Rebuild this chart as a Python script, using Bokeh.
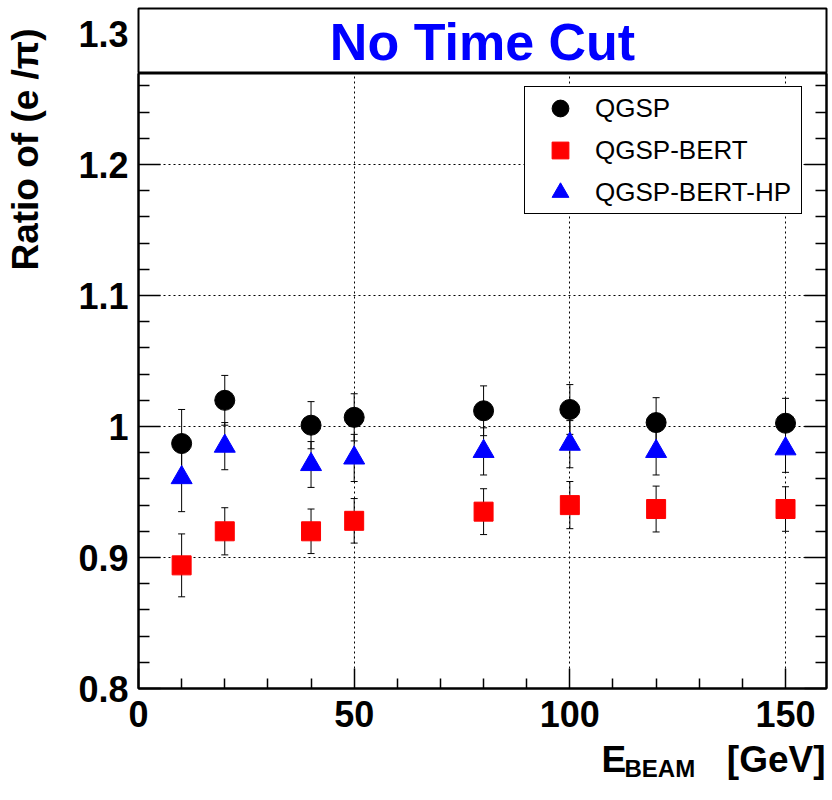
import math
from bokeh.plotting import figure
from bokeh.layouts import row, column
from bokeh.models import (Range1d, FixedTicker, LinearAxis, Whisker, TeeHead,
                          ColumnDataSource, Label, Legend, LegendItem,
                          CustomJSTickFormatter)
from bokeh.embed import file_html
from bokeh.resources import INLINE

# ---------------- data ----------------
energy = [10, 20, 40, 50, 80, 100, 120, 150]
qgsp = [0.987, 1.020, 1.001, 1.007, 1.012, 1.013, 1.003, 1.0025]
qgsp_err = [0.026, 0.019, 0.018, 0.018, 0.019, 0.019, 0.019, 0.019]
qgsp_bert = [0.894, 0.920, 0.920, 0.928, 0.935, 0.940, 0.937, 0.937]
qgsp_bert_err = [0.024, 0.018, 0.017, 0.017, 0.0175, 0.018, 0.0175, 0.017]
qgsp_bert_hp = [0.961, 0.985, 0.971, 0.976, 0.981, 0.9865, 0.981, 0.983]
qgsp_bert_hp_err = [0.026, 0.018, 0.0175, 0.018, 0.018, 0.018, 0.018, 0.018]

series_names = ["QGSP", "QGSP-BERT", "QGSP-BERT-HP"]
x_ticks = [0, 50, 100, 150]
x_tick_labels = ["0", "50", "100", "150"]
x_minor = [10, 20, 30, 40, 60, 70, 80, 90, 110, 120, 130, 140]
y_ticks = [0.8, 0.9, 1.0, 1.1, 1.2, 1.3]
y_tick_labels = ["0.8", "0.9", "1", "1.1", "1.2", "1.3"]
y_minor = [0.82, 0.84, 0.86, 0.88, 0.92, 0.94, 0.96, 0.98, 1.02, 1.04, 1.06, 1.08,
           1.12, 1.14, 1.16, 1.18, 1.22, 1.24, 1.26, 1.28, 1.32]
title_text = "No Time Cut"
y_title = "Ratio of (e /π)"

# ---------------- geometry (page pixels) ----------------
W, H = 832, 800
LW = 60                      # strip holding the y title
FL, FR = 138, 826            # frame left / right
FT, BOXB, FB = 8, 73, 688    # frame top, title-box bottom, frame bottom
XT = 744                     # top of the strip holding the x title
PXU = 1310.0                 # pixels per unit of ratio
X0, X1 = 0.0, 159.5
Y0 = 0.8
YB = Y0 + (FB - BOXB) / PXU
Y1 = Y0 + (FB - FT) / PXU
FONT = "Liberation Sans"

def dx(sx):
    return X0 + (sx - FL) * (X1 - X0) / (FR - FL)

xr = Range1d(X0, X1)
JS_LOOKUP = """
let best = 0, d = Infinity;
for (let i = 0; i < tvals.length; i++) { const e = Math.abs(tvals[i] - tick); if (e < d) { d = e; best = i; } }
return tlabels[best];
"""

def style_ylabels(ax):
    ax.major_label_text_font = FONT
    ax.major_label_text_font_style = "bold"
    ax.major_label_text_font_size = "36px"
    ax.major_label_text_color = "black"
    ax.major_label_standoff = 10

# ---------------- main plot ----------------
p = figure(width=W - LW, height=XT - BOXB, x_range=xr, y_range=Range1d(Y0, YB),
           output_backend="svg", toolbar_location=None,
           min_border_left=FL - LW, min_border_right=W - FR, min_border_top=0,
           min_border_bottom=XT - FB)
p.background_fill_color = "white"
p.border_fill_color = "white"
p.outline_line_color = "black"
p.outline_line_width = 2

for ax in p.xaxis:
    ax.ticker = FixedTicker(ticks=x_ticks, minor_ticks=x_minor)
    ax.formatter = CustomJSTickFormatter(args=dict(tvals=x_ticks, tlabels=x_tick_labels), code=JS_LOOKUP)
    ax.major_tick_in = 20
    ax.major_tick_out = 0
    ax.minor_tick_in = 10
    ax.minor_tick_out = 0
    ax.axis_line_width = 2
    ax.major_tick_line_width = 1.5
    ax.minor_tick_line_width = 1.5
    ax.major_label_text_font = FONT
    ax.major_label_text_font_style = "bold"
    ax.major_label_text_font_size = "36px"
    ax.major_label_text_color = "black"
    ax.major_label_standoff = 12

for ax in p.yaxis:
    ax.ticker = FixedTicker(ticks=y_ticks, minor_ticks=y_minor)
    ax.formatter = CustomJSTickFormatter(args=dict(tvals=y_ticks, tlabels=y_tick_labels), code=JS_LOOKUP)
    ax.major_tick_in = 22
    ax.major_tick_out = 0
    ax.minor_tick_in = 11
    ax.minor_tick_out = 0
    ax.axis_line_width = 2
    ax.major_tick_line_width = 1.5
    ax.minor_tick_line_width = 1.5
    style_ylabels(ax)

right_axis = LinearAxis(ticker=FixedTicker(ticks=y_ticks, minor_ticks=y_minor),
                        formatter=CustomJSTickFormatter(code="return '';"),
                        major_tick_in=22, major_tick_out=0, minor_tick_in=11, minor_tick_out=0,
                        axis_line_width=2, major_tick_line_width=1.5, minor_tick_line_width=1.5,
                        major_label_standoff=0)
p.add_layout(right_axis, "right")

p.xgrid.ticker = FixedTicker(ticks=x_ticks)
p.ygrid.ticker = FixedTicker(ticks=y_ticks)
for g in (p.xgrid[0], p.ygrid[0]):
    g.grid_line_color = "black"
    g.grid_line_dash = "2 3"
    g.grid_line_width = 1
    g.grid_line_alpha = 1.0

def add_errors(ys, errs):
    src = ColumnDataSource(dict(x=energy,
                                lo=[a - b for a, b in zip(ys, errs)],
                                hi=[a + b for a, b in zip(ys, errs)]))
    p.add_layout(Whisker(base="x", lower="lo", upper="hi", source=src, line_color="black",
                         line_width=1,
                         upper_head=TeeHead(size=7, line_color="black", line_width=1),
                         lower_head=TeeHead(size=7, line_color="black", line_width=1)))

add_errors(qgsp, qgsp_err)
add_errors(qgsp_bert, qgsp_bert_err)
add_errors(qgsp_bert_hp, qgsp_bert_hp_err)

r1 = p.scatter(energy, qgsp, marker="circle", size=20, fill_color="black", line_color="black")
r2 = p.scatter(energy, qgsp_bert, marker="square", size=19, fill_color="#ff0000", line_color="#ff0000")
r3 = p.scatter(energy, qgsp_bert_hp, marker="triangle", size=21, fill_color="#0000ff", line_color="#0000ff")

legend = Legend(items=[LegendItem(label=series_names[0], renderers=[r1]),
                       LegendItem(label=series_names[1], renderers=[r2]),
                       LegendItem(label=series_names[2], renderers=[r3])],
                location=(524 - FL, FB - 214), glyph_width=70, glyph_height=42,
                label_height=42, label_width=206, spacing=0, padding=0,
                label_standoff=0, margin=0,
                label_text_font=FONT, label_text_font_size="26px", label_text_color="black",
                border_line_color="black", border_line_width=1, border_line_alpha=1.0,
                background_fill_color="white", background_fill_alpha=1.0)
p.add_layout(legend)

# ---------------- title box (top of the same frame) ----------------
pt = figure(width=W - LW, height=BOXB, x_range=xr, y_range=Range1d(YB, Y1),
            output_backend="svg", toolbar_location=None, x_axis_location=None,
            min_border_left=FL - LW, min_border_right=W - FR, min_border_top=FT,
            min_border_bottom=0)
pt.background_fill_color = "white"
pt.border_fill_color = "white"
pt.outline_line_color = "black"
pt.outline_line_width = 2
pt.grid.visible = False
for ax in pt.yaxis:
    ax.ticker = FixedTicker(ticks=y_ticks, minor_ticks=[])
    ax.formatter = CustomJSTickFormatter(args=dict(tvals=y_ticks, tlabels=y_tick_labels), code=JS_LOOKUP)
    ax.major_tick_in = 0
    ax.major_tick_out = 0
    ax.minor_tick_in = 0
    ax.minor_tick_out = 0
    ax.axis_line_color = None
    ax.major_tick_line_color = None
    ax.minor_tick_line_color = None
    style_ylabels(ax)
pt.add_layout(Label(x=dx(482), y=Y1 - (41 - FT) / PXU, text=title_text, text_align="center",
                    text_baseline="alphabetic", text_font=FONT, text_font_style="bold",
                    text_font_size="52px", text_color="#0000ff"))

# ---------------- y title strip ----------------
pl = figure(width=LW, height=H, x_range=Range1d(0, LW), y_range=Range1d(H, 0),
            output_backend="svg", toolbar_location=None, x_axis_location=None,
            y_axis_location=None, min_border=0)
pl.min_border_left = pl.min_border_right = pl.min_border_top = pl.min_border_bottom = 0
pl.outline_line_color = None
pl.background_fill_color = "white"
pl.border_fill_color = "white"
pl.grid.visible = False
pl.add_layout(Label(x=25, y=28, text=y_title, angle=math.pi / 2,
                    text_align="right", text_baseline="alphabetic", text_font=FONT,
                    text_font_style="bold", text_font_size="37px", text_color="black"))

# ---------------- x title strip (frame aligned with the main plot) ----------------
pb = figure(width=W - LW, height=H - XT, x_range=xr, y_range=Range1d(H, XT),
            output_backend="svg", toolbar_location=None, x_axis_location=None,
            y_axis_location=None, min_border_left=FL - LW, min_border_right=W - FR,
            min_border_top=0, min_border_bottom=0)
pb.outline_line_color = None
pb.background_fill_color = "white"
pb.border_fill_color = "white"
pb.grid.visible = False
pb.add_layout(Label(x=dx(601), y=759, text="E", text_align="left",
                    text_baseline="alphabetic", text_font=FONT,
                    text_font_style="bold", text_font_size="37px", text_color="black"))
pb.add_layout(Label(x=dx(624), y=768, text="BEAM", text_align="left",
                    text_baseline="alphabetic", text_font=FONT,
                    text_font_style="bold", text_font_size="24px", text_color="black"))
pb.add_layout(Label(x=dx(825), y=759, text="[GeV]", text_align="right",
                    text_baseline="alphabetic", text_font=FONT,
                    text_font_style="bold", text_font_size="37px", text_color="black"))

page = row(pl, column(pt, p, pb, spacing=0), spacing=0)
open("out.html", "w").write(file_html(page, INLINE))
